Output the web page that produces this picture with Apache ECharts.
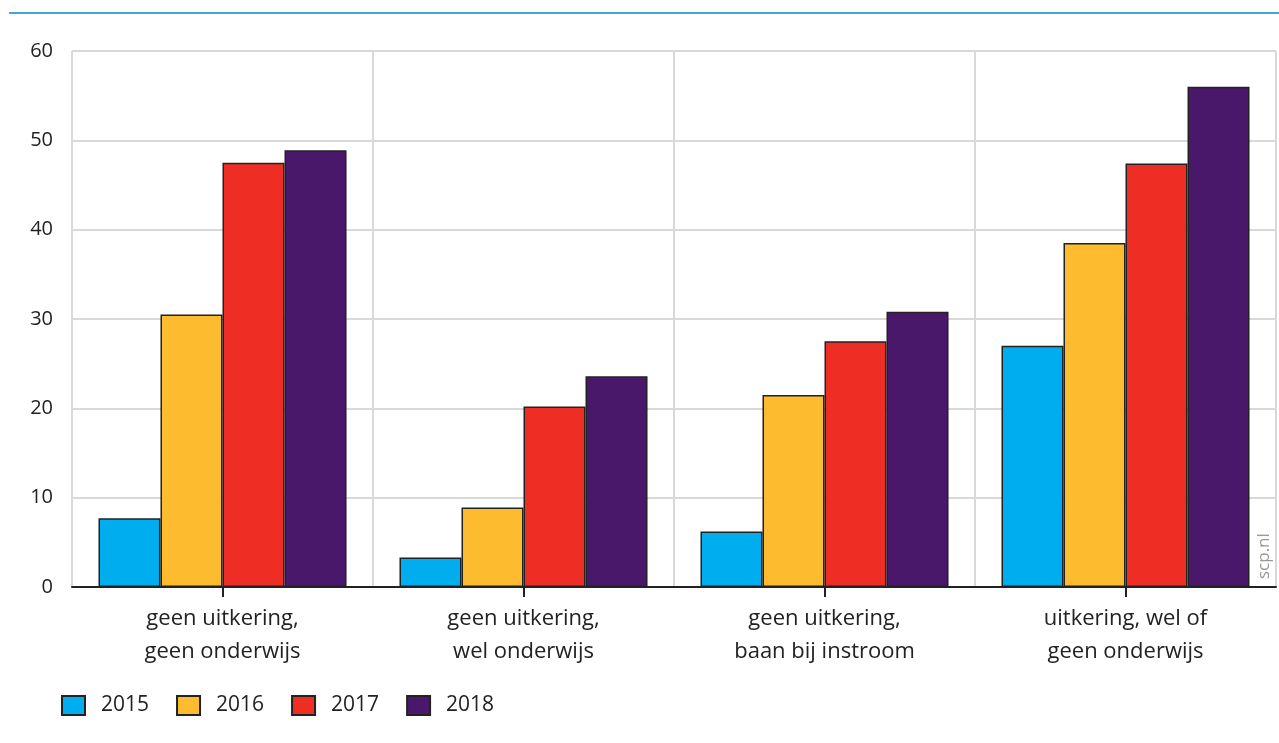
<!DOCTYPE html>
<html>
<head>
<meta charset="utf-8">
<script src="https://cdn.jsdelivr.net/npm/echarts@6/dist/echarts.min.js"></script>
<style>
  html, body { margin: 0; padding: 0; background: #fff; }
  #chart { width: 1279px; height: 743px; }
</style>
</head>
<body>
<div id="chart"></div>
<script>
const categories = [
  'geen uitkering,\ngeen onderwijs',
  'geen uitkering,\nwel onderwijs',
  'geen uitkering,\nbaan bij instroom',
  'uitkering, wel of\ngeen onderwijs'
];
const years = ['2015', '2016', '2017', '2018'];
const values2015 = [7.7, 3.3, 6.2, 27.0];
const values2016 = [30.5, 8.9, 21.5, 38.5];
const values2017 = [47.5, 20.2, 27.5, 47.4];
const values2018 = [48.9, 23.6, 30.8, 56.0];
const yTicks = [0, 10, 20, 30, 40, 50, 60];

const colors = ['#00aeef', '#fdbb30', '#ee2e24', '#4a186a'];
const seriesValues = [values2015, values2016, values2017, values2018];

let chart = echarts.init(document.getElementById('chart'));

let option = {
  animation: false,
  textStyle: { fontFamily: 'Open Sans', color: '#222' },
  grid: { left: 72, right: 3, top: 51, bottom: 156, containLabel: false },
  legend: {
    left: 56,
    top: 690,
    icon: 'rect',
    itemWidth: 23,
    itemHeight: 19,
    itemGap: 27,
    data: years,
    textStyle: { fontSize: 21, color: '#222', padding: [0, 0, 0, 11] }
  },
  graphic: [
    {
      type: 'line',
      shape: { x1: 9, y1: 13, x2: 1279, y2: 13 },
      style: { stroke: '#4aa3d8', lineWidth: 2 }
    },
    {
      type: 'text',
      x: 1256,
      y: 579,
      rotation: Math.PI / 2,
      style: { text: 'scp.nl', fontSize: 17, fill: '#999', fontFamily: 'Open Sans' }
    }
  ],
  xAxis: {
    type: 'category',
    data: categories,
    axisLine: { lineStyle: { color: '#222', width: 2 } },
    axisTick: { show: true, alignWithLabel: true, length: 10, lineStyle: { color: '#222', width: 2 } },
    splitLine: { show: true, lineStyle: { color: '#d9d9d9', width: 2 } },
    axisLabel: { fontSize: 22, color: '#222', lineHeight: 33, margin: 15 }
  },
  yAxis: {
    type: 'value',
    min: yTicks[0],
    max: yTicks[yTicks.length - 1],
    interval: 10,
    axisLine: { show: false },
    axisTick: { show: false },
    splitLine: { lineStyle: { color: '#d9d9d9', width: 2 } },
    axisLabel: { fontSize: 20, color: '#222', margin: 19 }
  },
  series: years.map((y, i) => ({
    name: y,
    type: 'bar',
    data: seriesValues[i],
    barGap: '0%',
    barCategoryGap: '17.6%',
    itemStyle: { color: colors[i], borderColor: '#222', borderWidth: 1.5 }
  }))
};

option && chart.setOption(option);
</script>
</body>
</html>
